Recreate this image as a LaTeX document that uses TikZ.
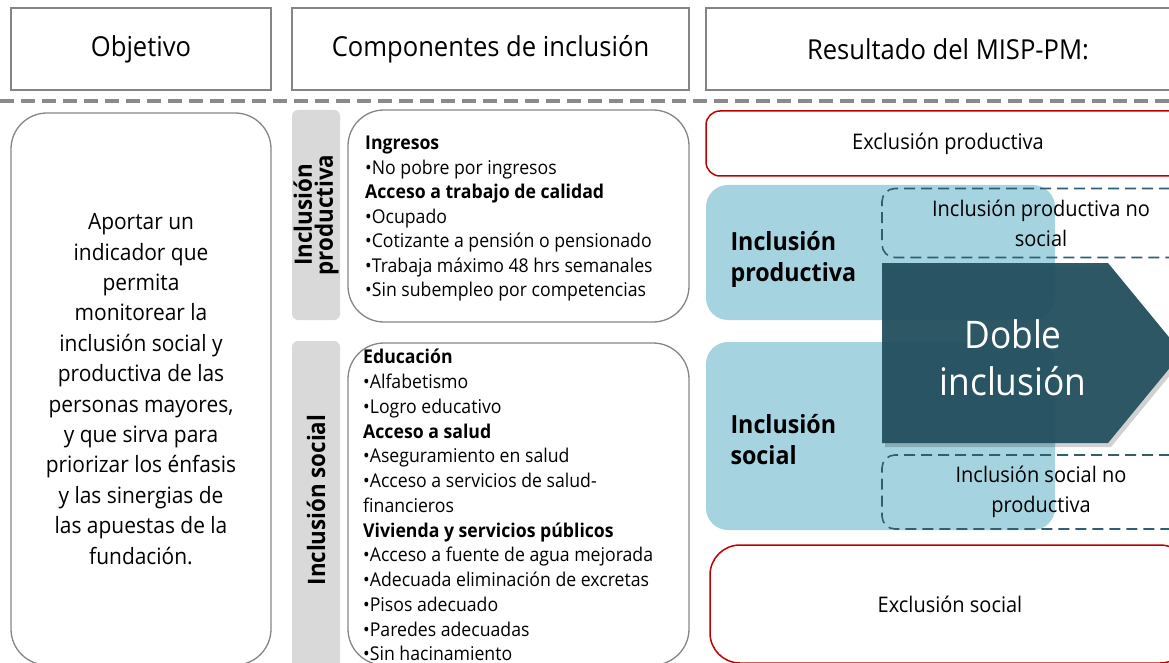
\documentclass[tikz,border=0pt]{standalone}
\usepackage{fontspec}
\setmainfont{Open Sans}[FakeStretch=0.93]
\usetikzlibrary{positioning}
\usetikzlibrary{shapes.geometric}
\definecolor{grisborde}{HTML}{858585}
\definecolor{grisbarra}{HTML}{D9D9D9}
\definecolor{grislinea}{HTML}{8A8A8A}
\definecolor{celeste}{HTML}{A6D3E0}
\definecolor{petroleo}{HTML}{214E5D}
\definecolor{guion}{HTML}{2E6071}
\definecolor{rojo}{HTML}{C00000}

\begin{document}
\begin{tikzpicture}[x=1pt,y=-1pt]
        % Define styles for shapes
        \tikzstyle{encabezado} = [draw=grisborde, line width=1.3pt, minimum height=82pt, font=\fontsize{27.5}{30}\selectfont]
        \tikzstyle{caja} = [draw=grisborde, line width=1.3pt, rounded corners=36pt]
        \tikzstyle{barra} = [fill=grisbarra, rounded corners=6pt, minimum width=48pt]
        \tikzstyle{etiqueta} = [rotate=90, align=center, font=\fontsize{24}{21}\selectfont\bfseries]
        \tikzstyle{lista} = [anchor=north west, inner sep=0pt, align=left, font=\fontsize{19}{24.5}\selectfont]
        \tikzstyle{exclusion} = [draw=rojo, line width=1.5pt, font=\fontsize{21.5}{30}\selectfont]
        \tikzstyle{inclusion} = [fill=celeste, rounded corners=22pt, minimum width=349pt]
        \tikzstyle{parcial} = [draw=guion, line width=1.6pt, dash pattern=on 11pt off 6pt, rounded corners=13pt, minimum width=318pt, align=center, font=\fontsize{21.5}{30}\selectfont]
        \useasboundingbox (0,0) rectangle (1169,663);

        % Headers
        \node[encabezado, minimum width=260pt] (hobj) at (141,49) {Objetivo};
        \node[encabezado, minimum width=397pt] (hcomp) at (490.5,49) {Componentes de inclusión};
        \node[encabezado, minimum width=484pt] (hres) at (948,49) {Resultado del MISP-PM:};
        \coordinate (sepizq) at (0,101);
        \coordinate (sepder) at (1169,101);
        \draw[grislinea, line width=3.5pt, dash pattern=on 14pt off 7pt] (sepizq) -- (sepder);

        % Objetivo
        \node[caja, minimum width=260pt, minimum height=552pt, align=center,
              font=\fontsize{22.5}{30.4}\selectfont] (obj) at (141,389) {
            Aportar un\\
            indicador que\\
            permita\\
            monitorear la\\
            inclusión social y\\
            productiva de las\\
            personas mayores,\\
            y que sirva para\\
            priorizar los énfasis\\
            y las sinergias de\\
            las apuestas de la\\
            fundación.
        };

        % Componentes
        \node[barra, minimum height=210pt] (bprod) at (316,215) {};
        \node[etiqueta] (lprod) at (bprod.center) {Inclusión\\productiva};
        \node[barra, minimum height=330pt] (bsoc) at (316,506) {};
        \node[etiqueta] (lsoc) at (316,500) {Inclusión social};
        \node[caja, minimum width=341pt, minimum height=212pt] (cprod) at (518.5,216) {};
        \node[caja, minimum width=341pt, minimum height=322pt] (csoc) at (518.5,504) {};
        \node[lista] (tprod) at (365,136) {
            \textbf{Ingresos}\\
            •No pobre por ingresos\\
            \textbf{Acceso a trabajo de calidad}\\
            •Ocupado\\
            •Cotizante a pensión o pensionado\\
            •Trabaja máximo 48 hrs semanales\\
            •Sin subempleo por competencias
        };
        \node[lista, font=\fontsize{19}{24.75}\selectfont] (tsoc) at (363,349) {
            \textbf{Educación}\\
            •Alfabetismo\\
            •Logro educativo\\
            \textbf{Acceso a salud}\\
            •Aseguramiento en salud\\
            •Acceso a servicios de salud-\\
            financieros\\
            \textbf{Vivienda y servicios públicos}\\
            •Acceso a fuente de agua mejorada\\
            •Adecuada eliminación de excretas\\
            •Pisos adecuado\\
            •Paredes adecuadas\\
            •Sin hacinamiento
        };

        % Resultado
        \node[exclusion, rounded corners=14pt, minimum width=484pt, minimum height=65pt] (exprod) at (948,143.5) {Exclusión productiva};
        \node[inclusion, minimum height=135pt] (inprod) at (880.5,252.5) {};
        \node[inclusion, minimum height=188pt] (insoc) at (880.5,436) {};
        \node[anchor=west, align=left, font=\fontsize{25}{31}\selectfont\bfseries] (linprod) at (727,259) {Inclusión\\productiva};
        \node[anchor=west, align=left, font=\fontsize{25}{31}\selectfont\bfseries] (linsoc) at (727,440) {Inclusión\\social};
        \node[parcial, minimum height=69pt] (prodnosoc) at (1041,223) {Inclusión productiva no\\social};
        \node[parcial, minimum height=74pt] (socnoprod) at (1041,492) {Inclusión social no\\productiva};
        % Doble inclusion arrow
        \fill[black, opacity=0.18] (885,267) -- (1111,267) -- (1185,357) -- (1111,447) -- (885,447) -- cycle;
        \fill[petroleo, opacity=0.93] (882,263) -- (1108,263) -- (1182,353) -- (1108,443) -- (882,443) -- cycle;
        \node[white, align=center, font=\fontsize{38}{47}\selectfont] (doble) at (1013,358) {Doble\\inclusión};
        \node[exclusion, rounded corners=30pt, minimum width=480pt, minimum height=118pt] (exsoc) at (950,604) {Exclusión social};
\end{tikzpicture}
\end{document}
